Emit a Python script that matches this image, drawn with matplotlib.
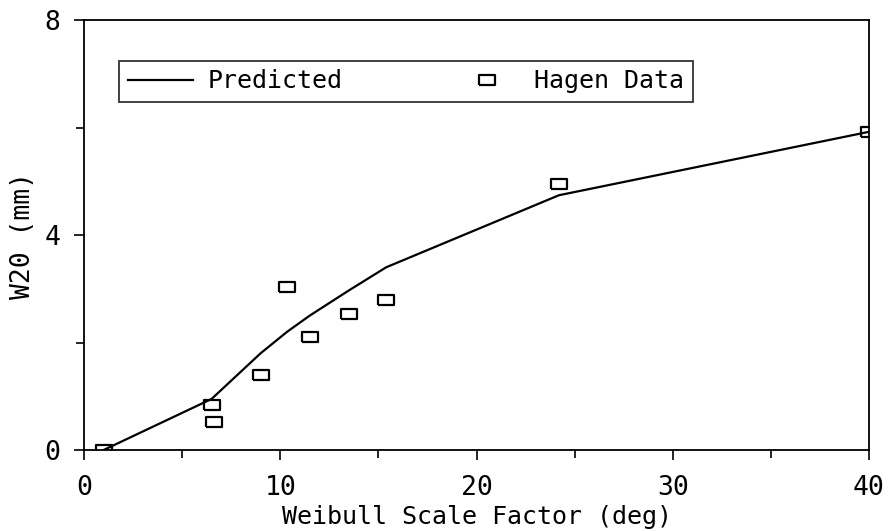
import matplotlib
matplotlib.use("Agg")
import matplotlib.pyplot as plt
from matplotlib.ticker import MultipleLocator

# predicted curve
pred_x = [1.0, 6.5, 9.0, 10.35, 11.5, 13.5, 15.4, 24.2, 40.0]
pred_y = [0.0, 0.95, 1.80, 2.20, 2.50, 2.97, 3.40, 4.74, 5.92]

# Hagen data points
hagen_x = [1.0, 6.5, 6.6, 9.0, 10.35, 11.5, 13.5, 15.4, 24.2, 40.0]
hagen_y = [0.0, 0.84, 0.52, 1.40, 3.03, 2.10, 2.53, 2.79, 4.95, 5.92]

plt.rcParams['font.family'] = ['DejaVu Sans Mono', 'DejaVu Sans']

fig = plt.figure(figsize=(8.88, 5.31), dpi=100)
ax = fig.add_axes([0.0946, 0.1525, 0.884, 0.8098])

rect = [(-1, -0.65), (1, -0.65), (1, 0.65), (-1, 0.65), (-1, -0.65)]
ax.plot(pred_x, pred_y, color='black', lw=1.6, label='Predicted')
ax.plot(hagen_x, hagen_y, ls='none', marker=rect, ms=11, mfc='none',
        mec='black', mew=1.6, label='Hagen Data')

ax.set_xlim(0, 40)
ax.set_ylim(0, 8)
ax.xaxis.set_major_locator(MultipleLocator(10))
ax.xaxis.set_minor_locator(MultipleLocator(5))
ax.yaxis.set_major_locator(MultipleLocator(4))
ax.yaxis.set_minor_locator(MultipleLocator(2))
ax.tick_params(which='both', direction='out', width=1.2, labelsize=19)
ax.tick_params(which='major', length=7)
ax.tick_params(which='minor', length=6)
ax.tick_params(axis='y', pad=10)
ax.tick_params(axis='x', pad=11)
for s in ax.spines.values():
    s.set_linewidth(1.3)

ax.set_xlabel('Weibull Scale Factor (deg)', fontsize=18, labelpad=3)
ax.set_ylabel('W20 (mm)', fontsize=19, labelpad=6)

leg = ax.legend(loc='lower left', bbox_to_anchor=(0.0446, 0.809, 0.731, 0.114),
                mode='expand', ncol=2, fontsize=18, frameon=True, fancybox=False,
                borderaxespad=0, handlelength=2.6, handletextpad=0.6,
                columnspacing=1.0, borderpad=0.35)
leg.get_frame().set_edgecolor('black')
leg.get_frame().set_linewidth(1.3)

fig.savefig('out.png', dpi=100)
